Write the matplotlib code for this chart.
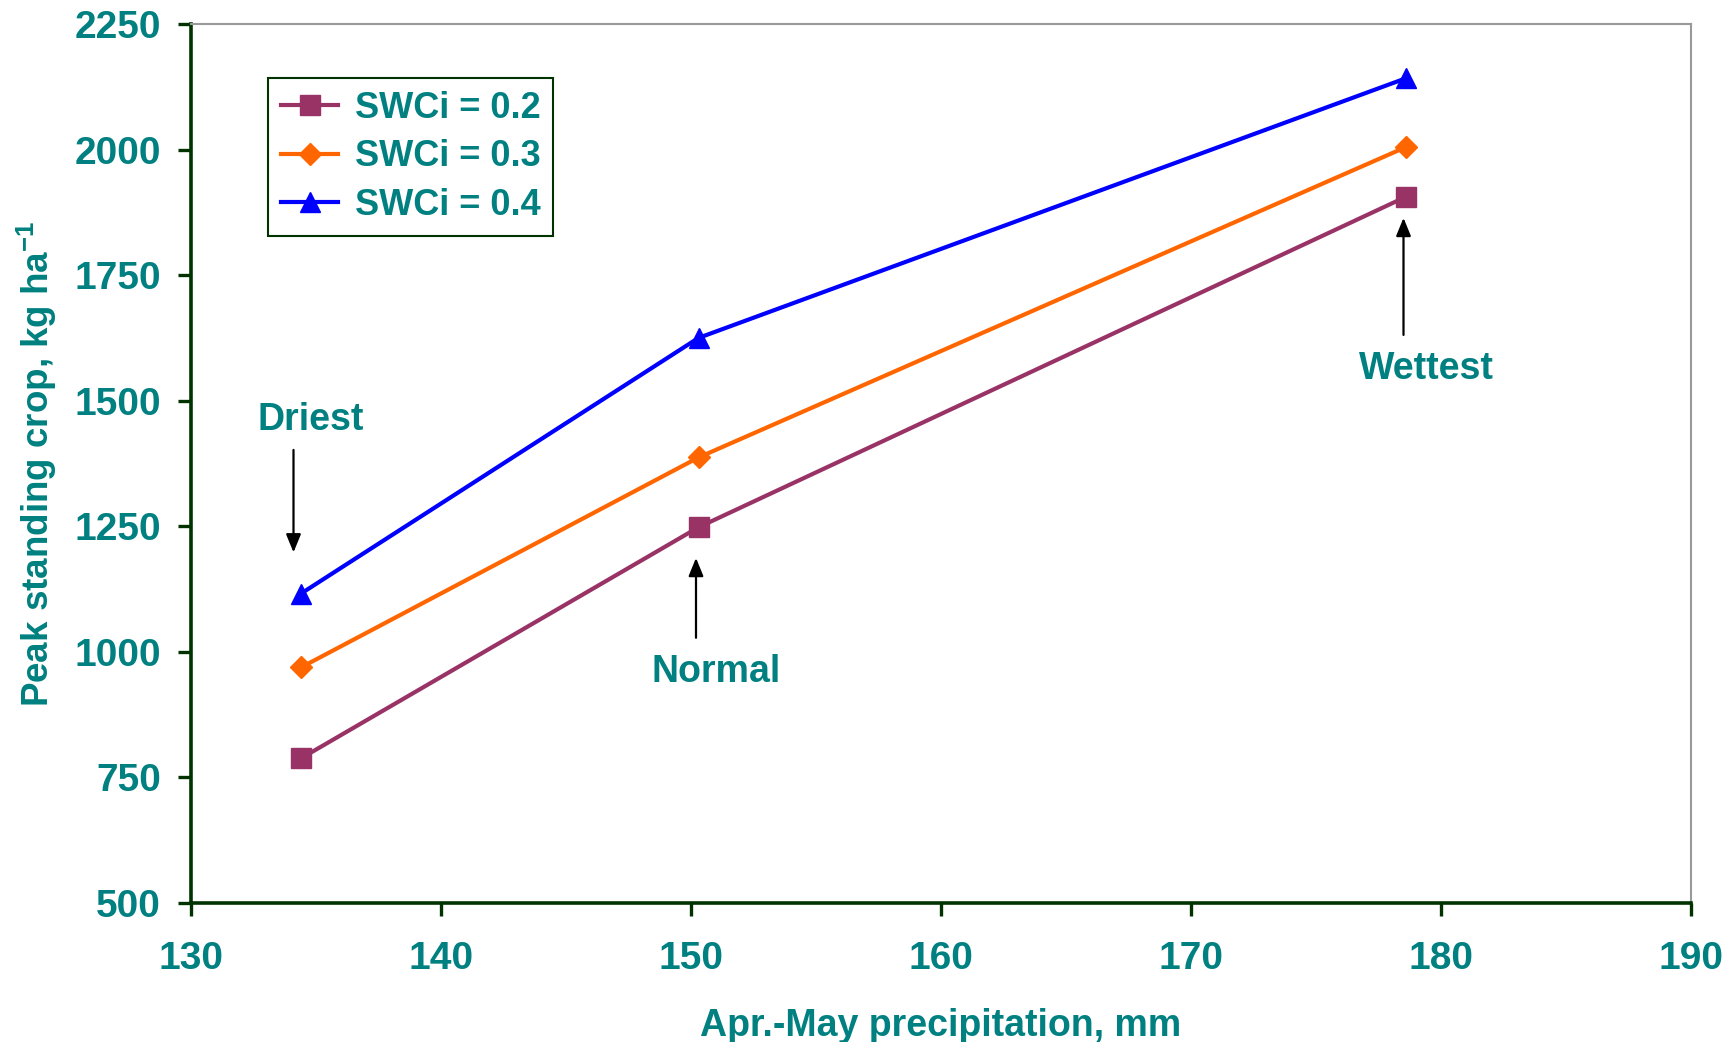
import matplotlib
matplotlib.use("Agg")
import matplotlib.pyplot as plt

plt.rcParams['font.family'] = ['Liberation Sans', 'DejaVu Sans']
plt.rcParams['font.weight'] = 'bold'
plt.rcParams['mathtext.fontset'] = 'custom'
plt.rcParams['mathtext.rm'] = 'Liberation Sans:bold'
plt.rcParams['mathtext.bf'] = 'Liberation Sans:bold'
plt.rcParams['mathtext.default'] = 'bf'

# data
precip = [134.4, 150.3, 178.6]
swc_02 = [788, 1248, 1906]
swc_03 = [969, 1387, 2005]
swc_04 = [1116, 1625, 2142]
series_labels = ['SWCi = 0.2', 'SWCi = 0.3', 'SWCi = 0.4']
x_ticks = [130, 140, 150, 160, 170, 180, 190]
y_ticks = [500, 750, 1000, 1250, 1500, 1750, 2000, 2250]

teal = '#008080'
dark = '#003300'

fig = plt.figure(figsize=(17.36, 10.42), dpi=100)
ax = fig.add_axes([191 / 1736, 1 - 903 / 1042, 1500 / 1736, 879 / 1042])

ax.plot(precip, swc_02, color='#993366', lw=3.0, marker='s', ms=14,
        label=series_labels[0], zorder=3)
ax.plot(precip, swc_03, color='#FF6600', lw=3.0, marker='D', ms=11,
        label=series_labels[1], zorder=3)
ax.plot(precip, swc_04, color='#0000FF', lw=3.0, marker='^', ms=15,
        label=series_labels[2], zorder=3)

ax.set_xlim(130, 190)
ax.set_ylim(500, 2250)
ax.set_xticks(x_ticks)
ax.set_yticks(y_ticks)

for s in ['left', 'bottom']:
    ax.spines[s].set_color(dark)
    ax.spines[s].set_linewidth(2.6)
for s in ['top', 'right']:
    ax.spines[s].set_color('#999999')
    ax.spines[s].set_linewidth(1.5)

ax.tick_params(axis='both', direction='out', length=9.5, width=2.4,
               color=dark, labelcolor=teal, labelsize=28)
ax.tick_params(axis='x', pad=18)
ax.tick_params(axis='y', pad=12)
ax.tick_params(top=False, right=False)

ax.set_xlabel('Apr.-May precipitation, mm', color=teal, fontsize=27,
              fontweight='bold', labelpad=22)
ax.set_ylabel(r'Peak standing crop, kg ha$^{-1}$', color=teal, fontsize=26.5,
              fontweight='bold', labelpad=11)

# annotations
arrow = dict(arrowstyle='-|>,head_length=1.1,head_width=0.45', color='black',
             lw=1.6, shrinkA=0, shrinkB=0)
ax.annotate('', xy=(134.1, 1198), xytext=(134.1, 1402), arrowprops=arrow)
ax.annotate('', xy=(150.2, 1187), xytext=(150.2, 1028), arrowprops=arrow)
ax.annotate('', xy=(178.5, 1864), xytext=(178.5, 1631), arrowprops=arrow)
ax.text(134.8, 1462, 'Driest', color=teal, fontsize=27, fontweight='bold',
        ha='center', va='center')
ax.text(151.0, 960, 'Normal', color=teal, fontsize=27, fontweight='bold',
        ha='center', va='center')
ax.text(179.4, 1563, 'Wettest', color=teal, fontsize=27, fontweight='bold',
        ha='center', va='center')

leg = ax.legend(loc='upper left', bbox_to_anchor=(77 / 1500, 1 - 54 / 879),
                fontsize=26, frameon=True, fancybox=False, framealpha=1,
                edgecolor=dark, handlelength=1.6, handletextpad=0.45,
                borderpad=0.35, labelspacing=0.38, borderaxespad=0)
leg.get_frame().set_linewidth(1.5)
for t in leg.get_texts():
    t.set_color(teal)
    t.set_fontweight('bold')

fig.savefig('out.png', dpi=100)
